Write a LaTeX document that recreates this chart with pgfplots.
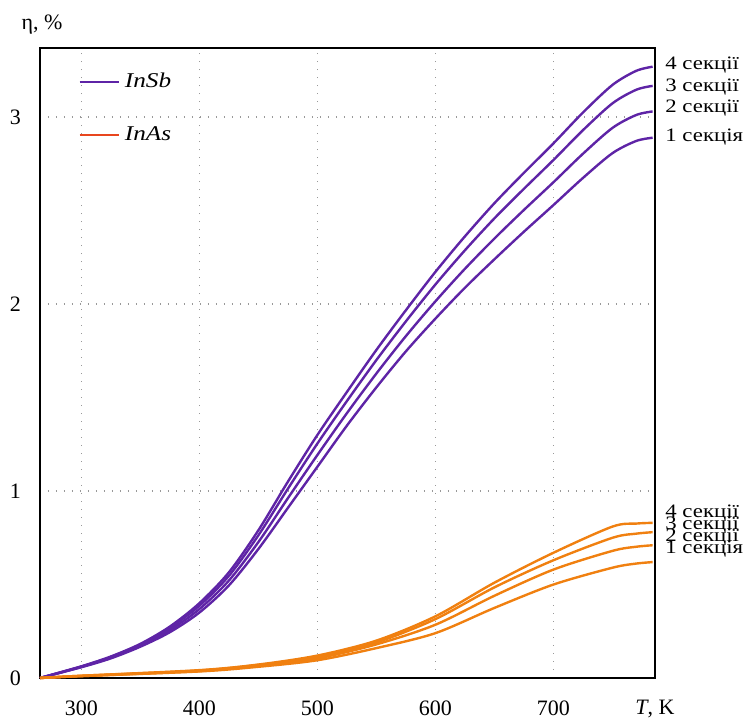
\documentclass[border=0pt]{standalone}
\usepackage{pgfplots}
\pgfplotsset{compat=1.18}
\usepackage{fontspec}
\setmainfont{Liberation Serif}
\newfontfamily\widefont[FakeStretch=1.2]{Liberation Serif}
\definecolor{cpurple}{RGB}{94,36,166}
\definecolor{corange}{RGB}{240,128,16}
\definecolor{cred}{RGB}{232,70,30}
\pgfplotstableread{
T c1 c2 c3 c4
265 0 0 0 0
300 0.0575 0.0594 0.0612 0.0625
325 0.1050 0.1087 0.1123 0.1150
350 0.1675 0.1731 0.1785 0.1825
375 0.2450 0.2561 0.2669 0.2750
400 0.3500 0.3685 0.3865 0.4000
425 0.4950 0.5209 0.5461 0.5650
450 0.6900 0.7270 0.7630 0.7900
475 0.9100 0.9618 1.0122 1.0500
500 1.1300 1.1929 1.2541 1.3000
525 1.3500 1.4166 1.4814 1.5300
550 1.5550 1.6290 1.7010 1.7550
575 1.7475 1.8290 1.9080 1.9675
600 1.9225 2.0150 2.1050 2.1725
625 2.0875 2.1890 2.2880 2.3625
650 2.2400 2.3510 2.4590 2.5400
675 2.3875 2.5040 2.6170 2.7025
700 2.5300 2.6520 2.7710 2.8600
725 2.6750 2.8045 2.9305 3.0250
750 2.8075 2.9426 3.0740 3.1725
770 2.8725 3.0113 3.1463 3.2475
784 2.8900 3.0306 3.1674 3.2700
}\insb
\pgfplotstableread{
T c1 c2 c3 c4
265 0 0 0 0
300 0.010 0.010 0.012 0.012
400 0.035 0.037 0.040 0.042
450 0.060 0.065 0.070 0.072
500 0.095 0.105 0.110 0.120
550 0.160 0.180 0.190 0.200
600 0.240 0.285 0.315 0.330
650 0.375 0.440 0.485 0.510
700 0.500 0.580 0.630 0.670
750 0.590 0.680 0.750 0.810
770 0.612 0.702 0.772 0.826
784 0.620 0.710 0.780 0.830
}\inas
\pgfplotsset{shortline/.style={legend image code/.code={\draw[##1] (0pt,0pt) -- (19.5pt,0pt);}}}
\begin{document}
\begin{tikzpicture}
\begin{axis}[
  scale only axis,
  width=307.5pt, height=315pt,
  xmin=265, xmax=786, ymin=0, ymax=3.37,
  xtick={300,400,500,600,700},
  ytick={0,1,2,3},
  major tick length=0pt,
  grid=major,
  grid style={gray!80, dash pattern=on 0.7pt off 3.3pt, line width=0.7pt},
  axis line style={black, line width=0.9pt},
  /pgf/number format/assume math mode=true,
  ticklabel style={font=\fontsize{11}{13}\selectfont},
  xticklabel style={yshift=-8pt},
  yticklabel style={xshift=-6pt},
  legend style={draw=none, fill=none, at={(axis description cs:0.062,0.964)}, anchor=north west,
    row sep=16pt, font=\widefont\fontsize{10.5}{12}\selectfont\itshape, inner sep=0pt,
    nodes={inner sep=1pt}},
  legend cell align=left,
  shortline,
  clip=false,
]
\addlegendimage{cpurple, line width=1.2pt}
\addlegendentry{\hspace{1.5pt}InSb}
\addlegendimage{cred, line width=1.2pt}
\addlegendentry{\hspace{1.5pt}InAs}
\addplot[cpurple, line width=1.2pt, smooth, forget plot] table[x=T, y=c1] {\insb};
\addplot[cpurple, line width=1.2pt, smooth, forget plot] table[x=T, y=c2] {\insb};
\addplot[cpurple, line width=1.2pt, smooth, forget plot] table[x=T, y=c3] {\insb};
\addplot[cpurple, line width=1.2pt, smooth, forget plot] table[x=T, y=c4] {\insb};
\addplot[corange, line width=1.2pt, smooth, forget plot] table[x=T, y=c1] {\inas};
\addplot[corange, line width=1.2pt, smooth, forget plot] table[x=T, y=c2] {\inas};
\addplot[corange, line width=1.2pt, smooth, forget plot] table[x=T, y=c3] {\inas};
\addplot[corange, line width=1.2pt, smooth, forget plot] table[x=T, y=c4] {\inas};
\end{axis}
\path (-20pt,-22pt) rectangle (356pt,339pt);
\node[font=\fontsize{11}{13}\selectfont] at (1pt,326.5pt) {η, \%};
\node[font=\fontsize{11}{13}\selectfont] at (307.5pt,-15.5pt) {\textit{T}, K};
\begin{scope}[every node/.style={anchor=west, inner sep=0pt, font=\widefont\fontsize{9.5}{11}\selectfont}]
\node at (312.5pt,306.5pt) {4 секції};
\node at (312.5pt,295.5pt) {3 секції};
\node at (312.5pt,285pt) {2 секції};
\node at (312.5pt,270.5pt) {1 секція};
\node at (312.5pt,82.5pt) {4 секції};
\node at (312.5pt,76.5pt) {3 секції};
\node at (312.5pt,70.5pt) {2 секції};
\node at (312.5pt,64.5pt) {1 секція};
\end{scope}
\end{tikzpicture}
\end{document}
